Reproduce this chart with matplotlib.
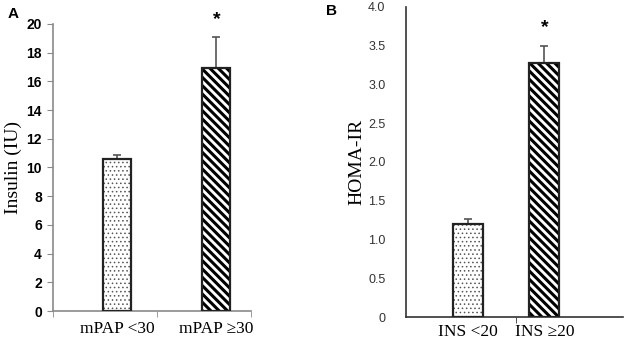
import matplotlib.pyplot as plt
import numpy as np

plt.rcParams['hatch.linewidth'] = 2.2

# panel A
labels_a = ['mPAP <30', 'mPAP \u226530']
insulin = [10.6, 16.9]
insulin_err = [0.3, 2.2]

# panel B
labels_b = ['INS <20', 'INS \u226520']
homa = [1.2, 3.28]
homa_err = [0.07, 0.22]

serif = ['Liberation Serif', 'DejaVu Serif']
sans = ['Liberation Sans', 'DejaVu Sans']
axis_gray = '#8a8a8a'

fig = plt.figure(figsize=(6.24, 3.48), dpi=100)
axA = fig.add_axes([0.0849, 0.1063, 0.317, 0.825])
axB = fig.add_axes([0.651, 0.089, 0.348, 0.891])


def draw_bars(ax, vals, errs, width):
    x = np.arange(len(vals))
    # dotted fill (gray dots), hatched fill (black stripes)
    with plt.rc_context({'hatch.linewidth': 0.6}):
        ax.bar(x[0], vals[0], width, color='white', edgecolor='#555555',
               hatch='....', linewidth=0, zorder=2)
    ax.bar(x[1], vals[1], width, color='white', edgecolor='black',
           hatch='\\\\\\\\', linewidth=0, zorder=2)
    ax.bar(x, vals, width, color='none', edgecolor='#222222',
           linewidth=1.6, zorder=3)
    ax.errorbar(x, vals, yerr=[np.zeros(len(errs)), errs], fmt='none',
                ecolor='#555555', elinewidth=1.2, capsize=3, capthick=1.2,
                zorder=1)
    return x


# ---- A ----
x = draw_bars(axA, insulin, insulin_err, 0.28)
axA.set_xlim(-0.643, 1.347)
axA.set_ylim(0, 20)
axA.set_yticks(np.arange(0, 21, 2))
axA.set_xticks(x)
axA.set_xticklabels(labels_a, family=serif, fontsize=12.5)
axA.set_xticks([-0.643, 0.40, 1.347], minor=True)
axA.tick_params(axis='x', which='major', length=0, pad=7)
axA.tick_params(axis='x', which='minor', length=4, color=axis_gray)
axA.tick_params(axis='y', length=4, color=axis_gray, labelsize=10, pad=4)
for t in axA.get_yticklabels():
    t.set_family(sans)
    t.set_fontweight('bold')
axA.set_ylabel('Insulin (IU)', family=serif, fontsize=14, labelpad=3)
axA.text(x[1], insulin[1] + insulin_err[1] + 0.6, '*', ha='center',
         va='bottom', fontsize=14, fontweight='bold', family=sans)
axA.text(-0.23, 1.02, 'A', transform=axA.transAxes, fontsize=11,
         fontweight='bold', family=sans)

# ---- B ----
x = draw_bars(axB, homa, homa_err, 0.39)
axB.set_xlim(-0.816, 2.04)
axB.set_ylim(0, 4.0)
yt = np.arange(0, 4.01, 0.5)
axB.set_yticks(yt)
axB.set_yticklabels(['0'] + ['%.1f' % v for v in yt[1:]], family=sans,
                    fontsize=9, color='#333333')
axB.set_xticks(x)
axB.set_xticklabels(labels_b, family=serif, fontsize=12.5)
axB.set_xticks([0.63], minor=True)
axB.tick_params(axis='x', which='major', length=0, pad=5)
axB.tick_params(axis='x', which='minor', length=4, color='#333333')
axB.tick_params(axis='y', length=0, pad=15)
axB.set_ylabel('HOMA-IR', family=serif, fontsize=14, labelpad=2)
axB.text(x[1], homa[1] + homa_err[1] + 0.12, '*', ha='center',
         va='bottom', fontsize=14, fontweight='bold', family=sans)
axB.text(-0.37, 0.975, 'B', transform=axB.transAxes, fontsize=11,
         fontweight='bold', family=sans)

for ax, c in ((axA, axis_gray), (axB, '#333333')):
    ax.spines['top'].set_visible(False)
    ax.spines['right'].set_visible(False)
    ax.spines['left'].set_color(c)
    ax.spines['bottom'].set_color(c)
    ax.spines['left'].set_linewidth(1.2)
    ax.spines['bottom'].set_linewidth(1.2)

fig.savefig('out.png', dpi=100)
